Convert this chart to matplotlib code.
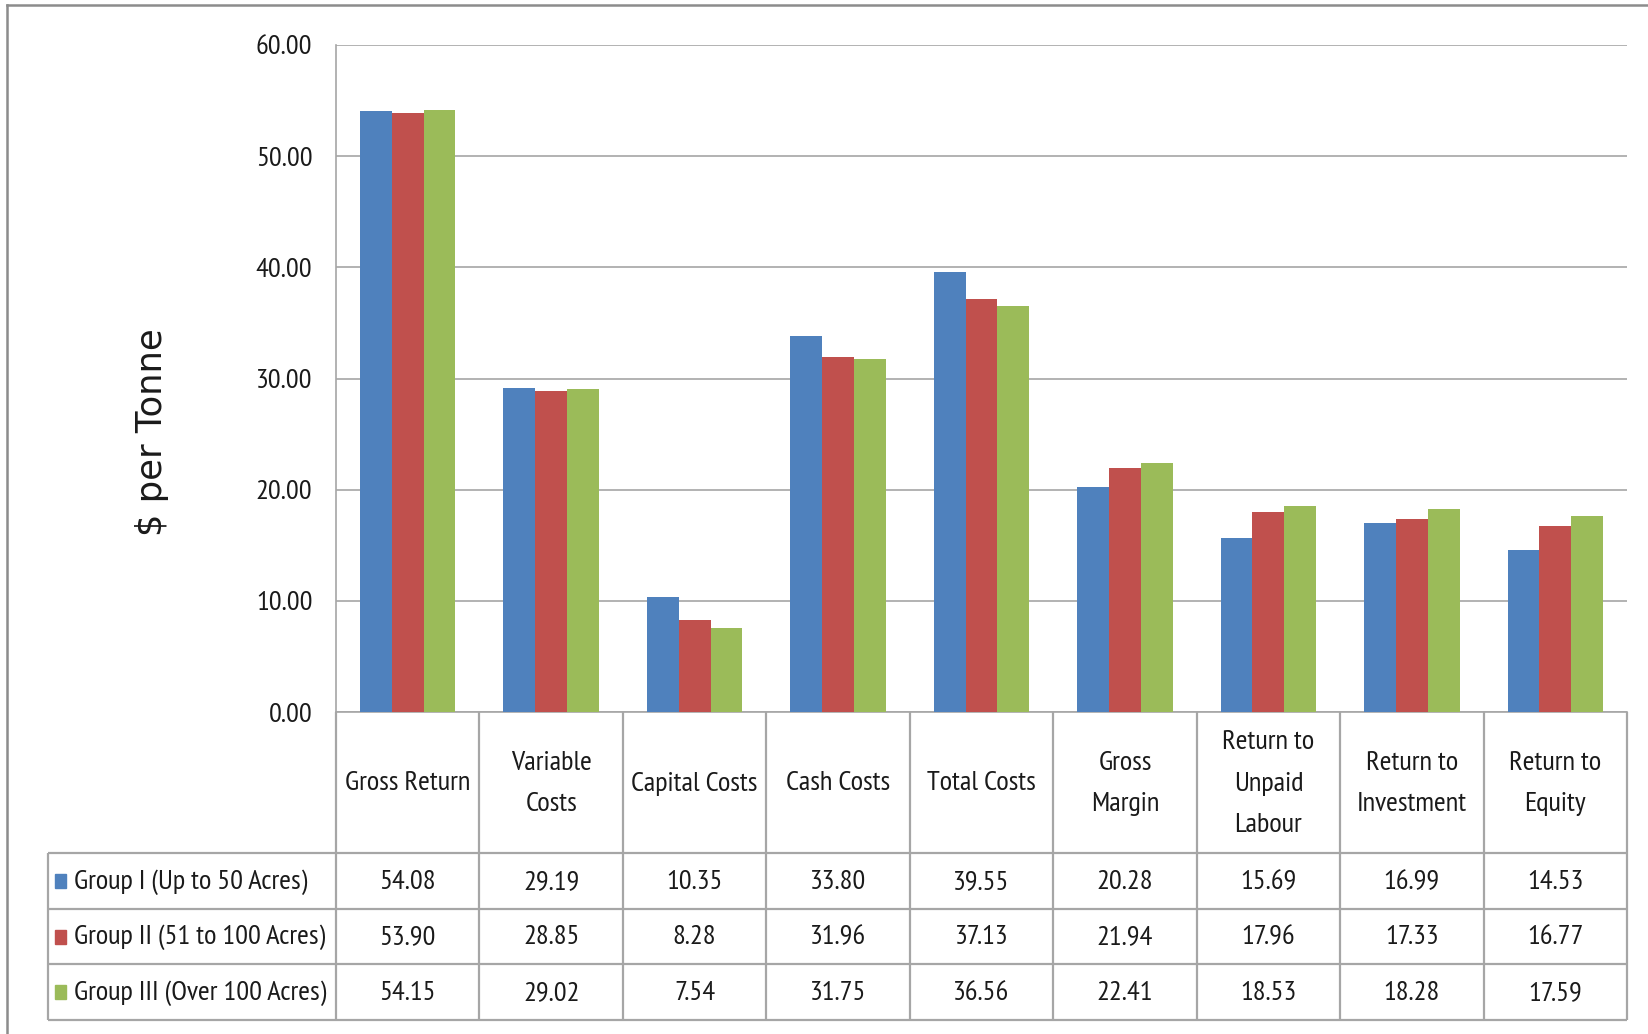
import matplotlib
matplotlib.use("Agg")
import matplotlib.pyplot as plt
from matplotlib.lines import Line2D
from matplotlib.patches import Rectangle
import numpy as np

categories = ["Gross Return", "Variable\nCosts", "Capital Costs", "Cash Costs", "Total Costs",
              "Gross\nMargin", "Return to\nUnpaid\nLabour", "Return to\nInvestment", "Return to\nEquity"]
series_names = ["Group I (Up to 50 Acres)", "Group II (51 to 100 Acres)", "Group III (Over 100 Acres)"]
group1 = [54.08, 29.19, 10.35, 33.80, 39.55, 20.28, 15.69, 16.99, 14.53]
group2 = [53.90, 28.85, 8.28, 31.96, 37.13, 21.94, 17.96, 17.33, 16.77]
group3 = [54.15, 29.02, 7.54, 31.75, 36.56, 22.41, 18.53, 18.28, 17.59]
yticks = [0, 10, 20, 30, 40, 50, 60]

colors = ["#4F81BD", "#C0504D", "#9BBB59"]
series = [group1, group2, group3]

plt.rcParams['font.family'] = ['PT Sans Narrow', 'DejaVu Sans']
FS = 20.5
TXT = "#1a1a1a"
GRID = "#a6a6a6"

W, H = 1648, 1034
fig = plt.figure(figsize=(W / 100, H / 100), dpi=100)

ax_l, ax_r, ax_t, ax_b = 336, 1627, 45, 712
ax = fig.add_axes([ax_l / W, 1 - ax_b / H, (ax_r - ax_l) / W, (ax_b - ax_t) / H])
n = len(categories)
x = np.arange(n)
bw = 0.222
for i, (vals, c) in enumerate(zip(series, colors)):
    ax.bar(x + (i - 1) * bw, vals, width=bw, color=c, zorder=3, linewidth=0)
ax.set_xlim(-0.5, n - 0.5)
ax.set_ylim(0, 60)
ax.set_yticks(yticks)
ax.set_yticklabels([f"{v:.2f}" for v in yticks], fontsize=FS, color=TXT)
ax.tick_params(axis='y', length=0, pad=17)
ax.set_xticks([])
ax.yaxis.grid(True, color=GRID, linewidth=1.2, zorder=0)
for s in ["top", "right"]:
    ax.spines[s].set_visible(False)
for s in ["left", "bottom"]:
    ax.spines[s].set_color(GRID)
    ax.spines[s].set_linewidth(1.2)

# table axes below, sharing x
tb_bot = 1020
axt = fig.add_axes([ax_l / W, 1 - tb_bot / H, (ax_r - ax_l) / W, (tb_bot - ax_b) / H], sharex=ax)
axt.set_ylim(tb_bot, ax_b)
axt.axis('off')
row_lines = [853, 909, 964, 1020]
col_w = (ax_r - ax_l) / n
leg_left = -0.5 - (ax_l - 48) / col_w
lk = dict(color=GRID, linewidth=1.6, clip_on=False, solid_capstyle='butt')
for yy in row_lines:
    axt.plot([leg_left, n - 0.5], [yy, yy], **lk)
for k in range(n + 1):
    axt.plot([k - 0.5, k - 0.5], [ax_b, tb_bot], **lk)
axt.plot([leg_left, leg_left], [row_lines[0], tb_bot], **lk)

for k, cat in enumerate(categories):
    axt.text(k, (ax_b + row_lines[0]) / 2 + 1, cat, ha='center', va='center', fontsize=FS,
             color=TXT, linespacing=1.9, clip_on=False)
for r, (vals, c, name) in enumerate(zip(series, colors, series_names)):
    yc = (row_lines[r] + row_lines[r + 1]) / 2
    for k, v in enumerate(vals):
        axt.text(k, yc + 1, f"{v:.2f}", ha='center', va='center', fontsize=FS, color=TXT, clip_on=False)
    sx = leg_left + 7 / col_w
    axt.add_patch(Rectangle((sx, yc - 7), 11 / col_w, 14, color=c, clip_on=False))
    axt.text(leg_left + 26 / col_w, yc + 1, name, ha='left', va='center', fontsize=FS, color=TXT, clip_on=False)

# y label
fig.text(152 / W, 1 - 432 / H, "$ per Tonne", rotation=90, ha='center', va='center',
         fontsize=25.5, family='DejaVu Sans', color=TXT)

# outer border (left and top)
fig.add_artist(Line2D([7 / W, 7 / W], [0, 1 - 5 / H], color="#8c8c8c", linewidth=1.8, transform=fig.transFigure))
fig.add_artist(Line2D([7 / W, 1], [1 - 5 / H, 1 - 5 / H], color="#8c8c8c", linewidth=1.8, transform=fig.transFigure))

fig.savefig("out.png", dpi=100, facecolor="white")
